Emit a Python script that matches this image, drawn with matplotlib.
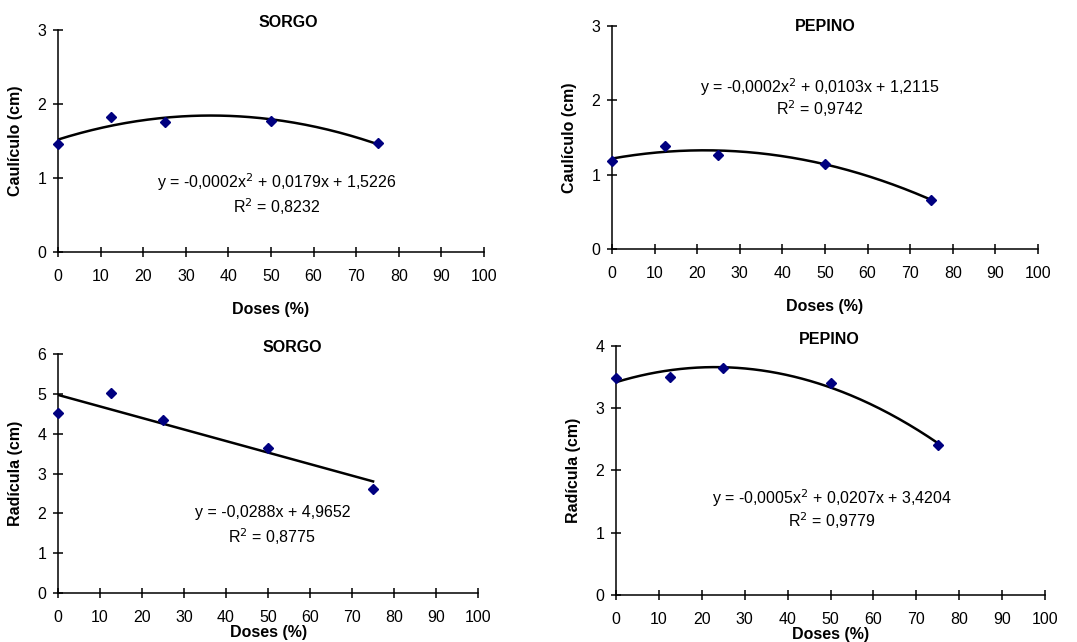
import numpy as np
import matplotlib
matplotlib.use("Agg")
import matplotlib.pyplot as plt

plt.rcParams["font.family"] = ["Liberation Sans", "DejaVu Sans"]

doses = [0, 12.5, 25, 50, 75]

sorgo_caule = [1.46, 1.83, 1.76, 1.77, 1.47]
pepino_caule = [1.19, 1.38, 1.27, 1.15, 0.66]
sorgo_raiz = [4.53, 5.02, 4.34, 3.65, 2.62]
pepino_raiz = [3.49, 3.50, 3.65, 3.41, 2.41]

eq_sorgo_caule = ["y = -0,0002x$^2$ + 0,0179x + 1,5226", "R$^2$ = 0,8232"]
eq_pepino_caule = ["y = -0,0002x$^2$ + 0,0103x + 1,2115", "R$^2$ = 0,9742"]
eq_sorgo_raiz = ["y = -0,0288x + 4,9652", "R$^2$ = 0,8775"]
eq_pepino_raiz = ["y = -0,0005x$^2$ + 0,0207x + 3,4204", "R$^2$ = 0,9779"]

fig = plt.figure(figsize=(10.77, 6.42), dpi=100)

# panel: rect, data, degree, ymax, title, title x/y, ylabel, eq text, eq pos, xlabel pad
panels = [
    ([0.0539, 0.6075, 0.3955, 0.3458], sorgo_caule, 2, 3, "SORGO", 0.54, 1.032,
     "Caulículo (cm)", eq_sorgo_caule, (0.514, 0.315, 0.203), 13),
    ([0.5682, 0.6121, 0.3955, 0.3474], pepino_caule, 2, 3, "PEPINO", 0.5, 0.996,
     "Caulículo (cm)", eq_pepino_caule, (0.488, 0.726, 0.628), 13),
    ([0.0539, 0.0763, 0.3900, 0.3723], sorgo_raiz, 1, 6, "SORGO", 0.557, 1.029,
     "Radícula (cm)", eq_sorgo_raiz, (0.51, 0.335, 0.234), 0),
    ([0.5720, 0.0732, 0.3983, 0.3879], pepino_raiz, 2, 4, "PEPINO", 0.497, 1.028,
     "Radícula (cm)", eq_pepino_raiz, (0.503, 0.39, 0.297), 0),
]

fs = 11.5

for rect, vals, deg, ymax, title, tx, ty, ylab, eq, epos, xpad in panels:
    ax = fig.add_axes(rect)
    x = np.array(doses)
    y = np.array(vals)
    coef = np.polyfit(x, y, deg)
    xs = np.linspace(0, 75, 200)
    ax.plot(xs, np.polyval(coef, xs), color="black", lw=1.8, zorder=2)
    ax.plot(x, y, ls="none", marker="D", ms=5.3, color="#000080", zorder=3,
            clip_on=False)

    ax.set_xlim(0, 100)
    ax.set_ylim(0, ymax)
    ax.set_xticks(range(0, 101, 10))
    ax.set_yticks(range(0, ymax + 1))
    for s in ["top", "right"]:
        ax.spines[s].set_visible(False)
    for s in ["left", "bottom"]:
        ax.spines[s].set_linewidth(1.1)
    ax.tick_params(axis="x", direction="inout", length=7, width=1.1,
                   pad=9, labelsize=fs)
    ax.tick_params(axis="y", direction="inout", length=7, width=1.1,
                   pad=5, labelsize=fs)

    ax.set_xlabel("Doses (%)", fontsize=fs, fontweight="bold", labelpad=xpad)
    ax.set_ylabel(ylab, fontsize=fs, fontweight="bold", labelpad=10)
    ax.text(tx, ty, title, transform=ax.transAxes, ha="center", va="center",
            fontsize=fs, fontweight="bold")
    ax.text(epos[0], epos[1], eq[0], transform=ax.transAxes, ha="center",
            va="center", fontsize=fs)
    ax.text(epos[0], epos[2], eq[1], transform=ax.transAxes, ha="center",
            va="center", fontsize=fs)

fig.savefig("out.png", dpi=100)
